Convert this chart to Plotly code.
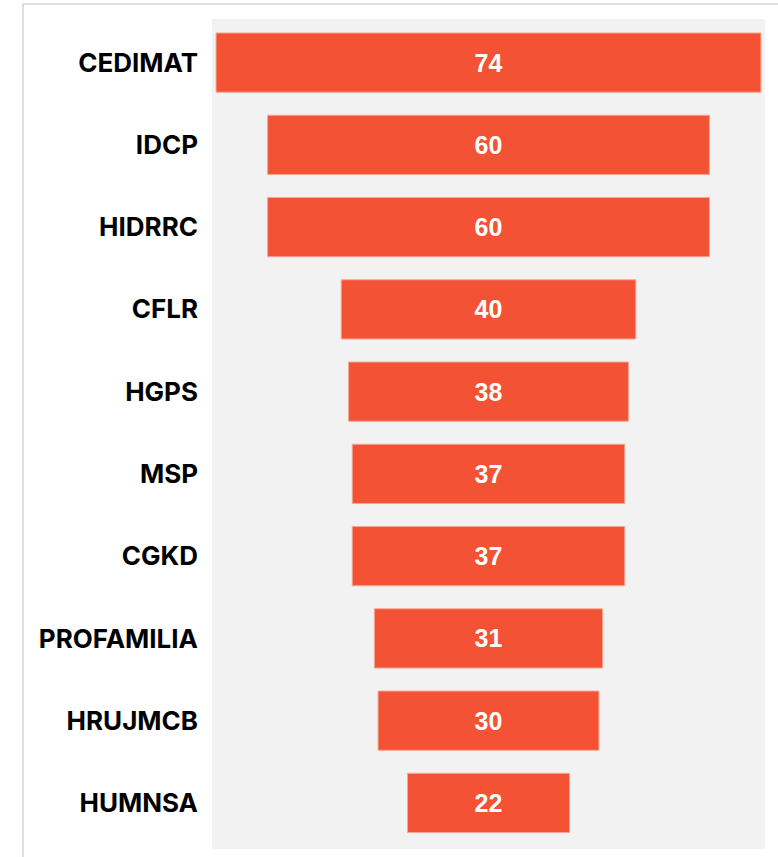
import plotly.graph_objects as go

categories = ["CEDIMAT", "IDCP", "HIDRRC", "CFLR", "HGPS", "MSP", "CGKD",
              "PROFAMILIA", "HRUJMCB", "HUMNSA"]
values = [74, 60, 60, 40, 38, 37, 37, 31, 30, 22]

W, H = 778, 857
fig = go.Figure(go.Funnel(
    y=categories,
    x=values,
    textinfo="value",
    textposition="inside",
    insidetextanchor="middle",
    textfont=dict(family="Liberation Sans, Arial, sans-serif", size=25, color="white", weight="bold"),
    marker=dict(color="#F35234", line=dict(color="#F9A593", width=1)),
    connector=dict(visible=False),
    hoverinfo="y+x",
))

fig.update_layout(
    width=W, height=H,
    margin=dict(l=212, r=13, t=19, b=8),
    paper_bgcolor="white",
    plot_bgcolor="#F2F2F2",
    showlegend=False,
    funnelgap=0.28,
    font=dict(family="Inter, sans-serif"),
    xaxis=dict(visible=False, range=[-37.55, 37.55]),
    yaxis=dict(
        range=[9.56, -0.53],
        tickfont=dict(family="Inter, sans-serif", size=26, color="black", weight="bold"),
        ticklabelstandoff=13,
        showgrid=False, zeroline=False, showline=False,
    ),
    shapes=[dict(type="rect", xref="paper", yref="paper",
                 x0=(23 - 212) / (W - 212 - 13), x1=1.2,
                 y0=-0.2, y1=(H - 8 - 4) / (H - 19 - 8),
                 line=dict(color="#D4D4D4", width=1.5), layer="below")],
)

fig.write_html("out.html", config={"displayModeBar": False},
               post_script="document.body.style.margin='0px';")
